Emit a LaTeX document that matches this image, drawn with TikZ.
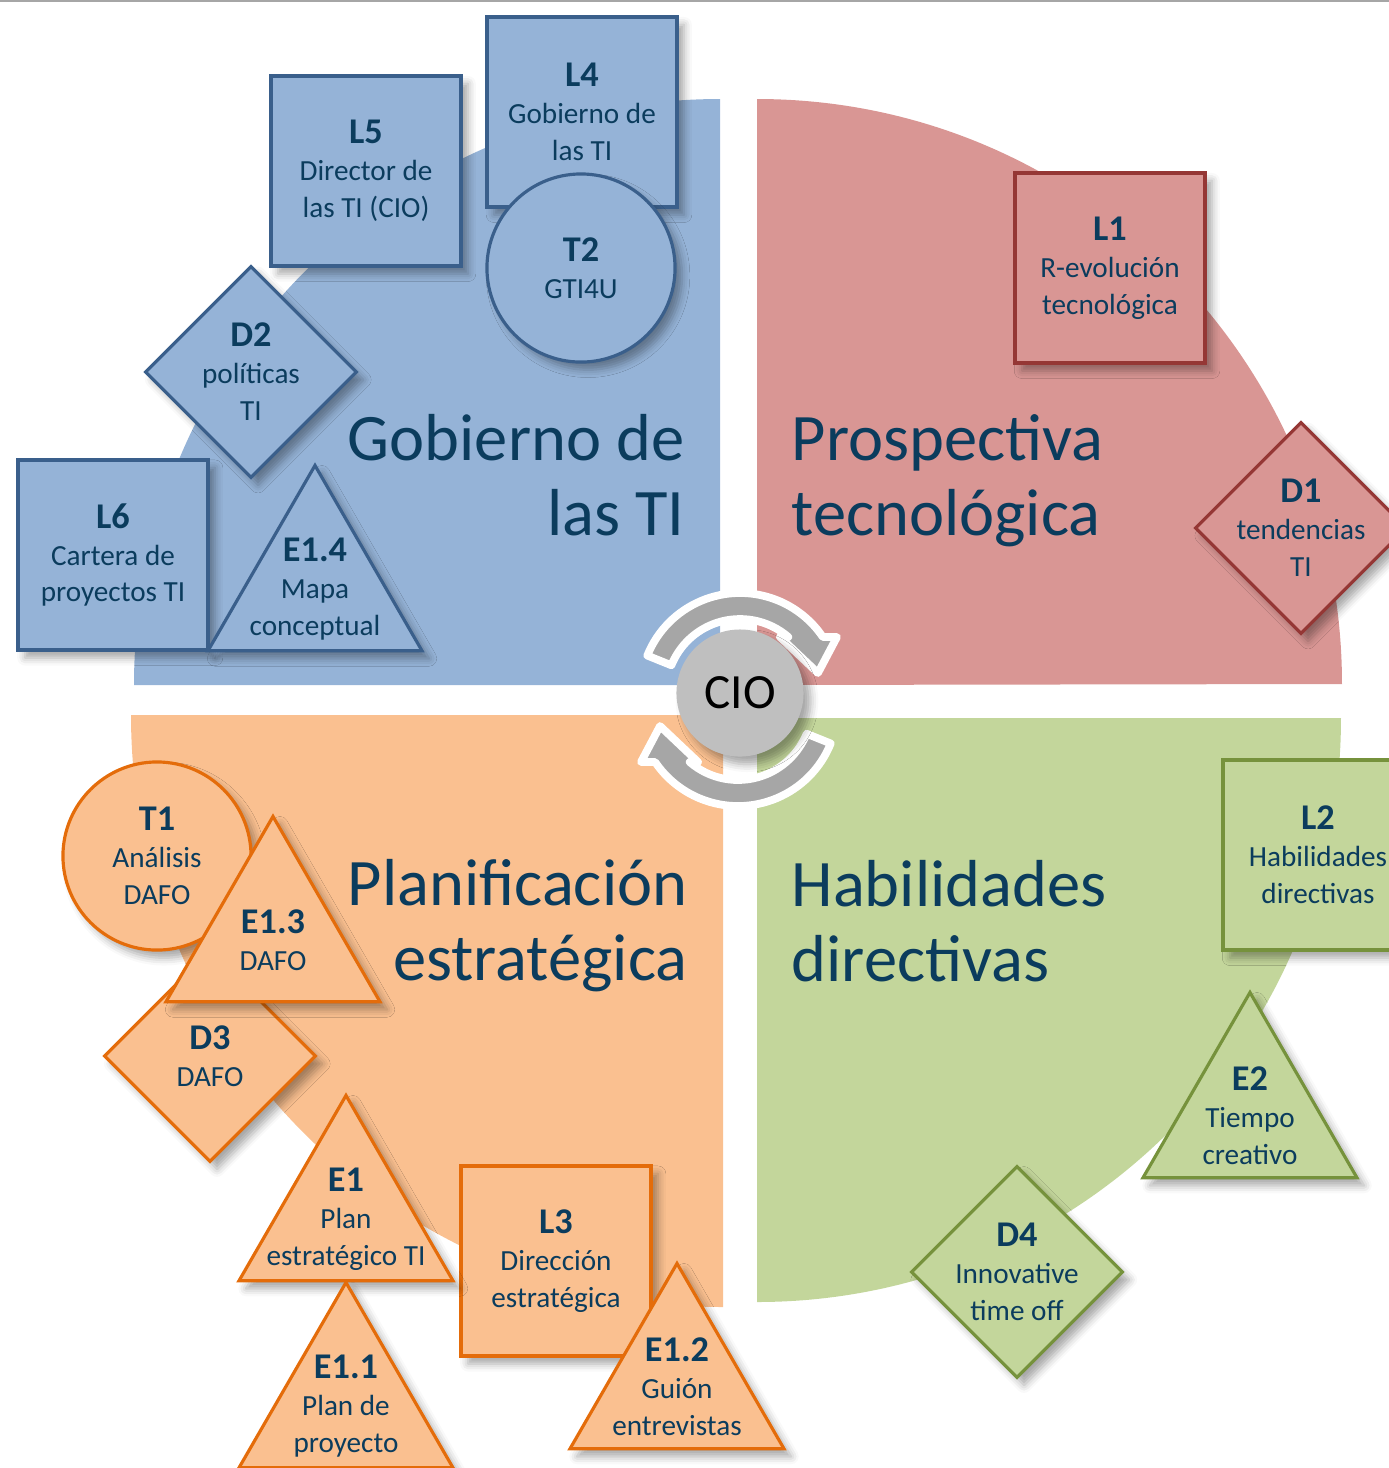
\documentclass[tikz,border=0pt]{standalone}
\usepackage{fontspec}
\setmainfont{Carlito}
\usetikzlibrary{shapes.geometric,shadows.blur}

\definecolor{bluefill}{HTML}{95B3D7}
\definecolor{blueline}{HTML}{3A5F8B}
\definecolor{redfill}{HTML}{D99694}
\definecolor{redline}{HTML}{953735}
\definecolor{greenfill}{HTML}{C3D69B}
\definecolor{greenline}{HTML}{76923C}
\definecolor{orangefill}{HTML}{FAC090}
\definecolor{orangeline}{HTML}{E46C0A}
\definecolor{txtblue}{HTML}{0B3C5D}
\definecolor{ciogray}{HTML}{BFBFBF}
\definecolor{arrowgray}{HTML}{A6A6A6}

\newcommand{\hd}[1]{{\fontsize{10.3}{10.5}\selectfont\bfseries #1}\\}

\begin{document}
\begin{tikzpicture}[x=0.01cm,y=-0.01cm,
  shd/.style={blur shadow={shadow xshift=2pt,shadow yshift=-2.2pt,shadow blur radius=2.2pt,shadow opacity=35}},
  item/.style={draw=#1line,fill=#1fill,line width=0.9pt,inner sep=0pt,shd},
  sqbox/.style={item=#1,rectangle,minimum size=1.9cm},
  rnd/.style={item=#1,circle,minimum size=1.88cm},
  dmd/.style={item=#1,diamond,minimum width=2.12cm,minimum height=2.12cm},
  tri/.style={item=#1,regular polygon,regular polygon sides=3,minimum size=2.47cm},
  lbl/.style={align=center,text=txtblue,inner sep=0pt,font=\fontsize{8.3}{10.5}\selectfont},
  title/.style={text=txtblue,inner sep=0pt,font=\fontsize{18.9}{21.3}\selectfont},
  cioarrow/.style={fill=arrowgray,draw=white,line width=2.2pt,line join=round}]
\useasboundingbox (0,0) rectangle (1389,1468);
\clip (0,0) rectangle (1389,1468);
\draw[gray!70,line width=0.6pt] (0,1) -- (1389,1);

% quadrants
\fill[bluefill] (720,685) -- (134,685) arc[start angle=180,end angle=270,radius=586] -- cycle;
\fill[redfill] (757,685) -- (757,99) arc[start angle=270,end angle=360,radius=585] -- cycle;
\fill[greenfill] (757,718) -- (1341,718) arc[start angle=0,end angle=90,radius=584] -- cycle;
\fill[orangefill] (723,715) -- (723,1307) arc[start angle=90,end angle=180,radius=592] -- cycle;

\node[title,align=right,anchor=north east] (gob) at (685,414) {Gobierno de\\las TI};
\node[title,align=left,anchor=north west] (pro) at (791,414) {Prospectiva\\tecnológica};
\node[title,align=right,anchor=north east] (pla) at (688,859) {Planificación\\estratégica};
\node[title,align=left,anchor=north west] (hab) at (791,860) {Habilidades\\directivas};

% CIO
\foreach \cx/\cy/\r in {740/693/0,738/706/180}
\path[cioarrow,shift={(\cx,\cy)},rotate=\r] (-158:100) arc[start angle=-158,end angle=-34.1,radius=100]
  -- (-30:112) -- (-14.4:80.5) -- (-54.5:68.8) -- (-49.2:74)
  arc[start angle=-49.2,end angle=-158,radius=74] -- cycle;
\node[circle,fill=ciogray,minimum size=1.27cm,inner sep=0pt,shd,font=\fontsize{14}{16}\selectfont] (cio) at (740,693) {CIO};

% squares
\foreach \n/\h/\q/\x/\y/\t in {
  L5/L5/blue/366/171/{Director de\\las TI (CIO)},
  L4/L4/blue/582/112/{Gobierno de\\las TI},
  L6/L6/blue/113/555/{Cartera de\\proyectos TI},
  L1/L1/red/1110/268/{R-evolución\\tecnológica},
  L2/L2/green/1318/855/{Habilidades\\directivas},
  L3/L3/orange/556/1261/{Dirección\\estratégica}}
{
  \node[sqbox=\q] (\n) at (\x,\y) {};
  \node[lbl] (\n-t) at (\n) {\hd{\h}\t};
}

% circles
\foreach \n/\h/\q/\x/\y/\t in {
  T2/T2/blue/581/268/{GTI4U},
  T1/T1/orange/157/856/{Análisis\\DAFO}}
{
  \node[rnd=\q] (\n) at (\x,\y) {};
  \node[lbl] (\n-t) at (\n) {\hd{\h}\t};
}

% diamonds
\foreach \n/\h/\q/\x/\y/\t in {
  D2/D2/blue/251/372/{políticas\\TI},
  D1/D1/red/1301/528/{tendencias\\TI},
  D3/D3/orange/210/1056/{DAFO},
  D4/D4/green/1017/1272/{Innovative\\time off}}
{
  \node[dmd=\q] (\n) at (\x,\y) {};
  \node[lbl] (\n-t) at (\n) {\hd{\h}\t};
}

% triangles
\foreach \n/\h/\q/\x/\y/\t in {
  E14/E1.4/blue/315/589/{Mapa\\conceptual},
  E2/E2/green/1250/1116/{Tiempo\\creativo},
  E13/E1.3/orange/273/940/{DAFO},
  E1/E1/orange/346/1219/{Plan\\estratégico TI},
  E11/E1.1/orange/346/1406/{Plan de\\proyecto},
  E12/E1.2/orange/677/1387/{Guión\\entrevistas}}
{
  \node[tri=\q] (\n) at (\x,\y) {};
  \node[lbl] (\n-t) at (\n) {\hd{\h}\t};
}
\end{tikzpicture}
\end{document}
